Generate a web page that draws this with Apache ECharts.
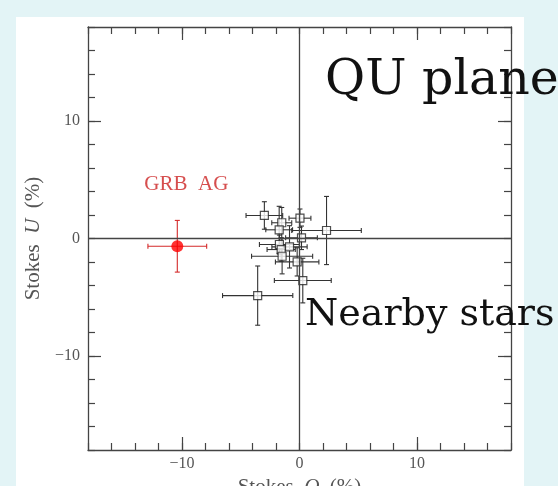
<!DOCTYPE html>
<html>
<head>
<meta charset="utf-8">
<script src="https://cdn.jsdelivr.net/npm/echarts@6/dist/echarts.min.js"></script>
<style>
  html, body { margin: 0; padding: 0; background: #e3f4f6; }
  #panel { position: absolute; left: 16px; top: 17px; width: 508px; height: 469px; background: #ffffff; }
  #chart { position: absolute; left: 0; top: 0; width: 558px; height: 486px; }
</style>
</head>
<body>
<div id="panel"></div>
<div id="chart"></div>
<script>
// Stokes Q / U polarisation (percent) of the GRB afterglow and of nearby field stars.
const grbQ = [-10.4];
const grbU = [-0.66];
const grbErrQ = [2.5];
const grbErrU = [2.2];

const starQ    = [-2.99, 0.04, 2.30, -1.51, -1.73, 0.17, -1.71, -0.85, -1.56, -1.48, -0.20, 0.28, -3.56];
const starU    = [ 1.96, 1.73, 0.68,  1.34,  0.74, 0.06, -0.51, -0.71, -0.94, -1.51, -1.99, -3.58, -4.86];
const starErrQ = [ 1.56, 0.93, 2.96,  0.85,  1.14, 1.35,  1.70,  1.50,  1.20,  2.60,  1.85,  2.42,  2.99];
const starErrU = [ 1.17, 0.78, 2.90,  1.30,  2.00, 1.00,  0.80,  1.80,  1.00,  1.50,  1.20,  1.90,  2.52];

const tickLabels = [-10, 0, 10];
const majorTicks = [-10, 10];
const axisMin = -18;
const axisMax = 18;
const minorStep = 2;

const serif = '"Liberation Serif", "DejaVu Serif", serif';
const bigSerif = '"DejaVu Serif", "Liberation Serif", serif';
const axisColor = '#444';

const starRows = starQ.map((q, i) => [q, starU[i], starErrQ[i], starErrU[i]]);
const grbRows = grbQ.map((q, i) => [q, grbU[i], grbErrQ[i], grbErrU[i]]);

function fmtTick(v) {
  if (tickLabels.indexOf(v) < 0) return '';
  return v < 0 ? '\u2212' + Math.abs(v) : String(v);
}

// Cross-shaped error bars with short end caps
function errorBars(color) {
  return function (params, api) {
    const q = api.value(0), u = api.value(1), dq = api.value(2), du = api.value(3);
    const l = api.coord([q - dq, u]);
    const r = api.coord([q + dq, u]);
    const t = api.coord([q, u + du]);
    const b = api.coord([q, u - du]);
    const cap = 2.5;
    const style = { stroke: color, lineWidth: 1.1 };
    const seg = (x1, y1, x2, y2) => ({ type: 'line', shape: { x1, y1, x2, y2 }, style });
    return {
      type: 'group',
      children: [
        seg(l[0], l[1], r[0], r[1]),
        seg(t[0], t[1], b[0], b[1]),
        seg(l[0], l[1] - cap, l[0], l[1] + cap),
        seg(r[0], r[1] - cap, r[0], r[1] + cap),
        seg(t[0] - cap, t[1], t[0] + cap, t[1]),
        seg(b[0] - cap, b[1], b[0] + cap, b[1])
      ]
    };
  };
}

const tickStyle = { color: axisColor, width: 1.2 };

function minorAxis(position, extra) {
  return Object.assign({
    type: 'value', position, min: axisMin, max: axisMax, interval: minorStep,
    axisLine: { show: true, onZero: false, lineStyle: { color: axisColor, width: 1.3 } },
    axisTick: { show: true, inside: true, length: 7, lineStyle: tickStyle },
    axisLabel: { show: false },
    splitLine: { show: false }
  }, extra || {});
}

function majorAxis(position) {
  return {
    type: 'value', position, min: axisMin, max: axisMax,
    axisLine: { show: false, onZero: false },
    axisTick: { show: true, inside: true, length: 13, customValues: majorTicks, lineStyle: tickStyle },
    axisLabel: { show: false },
    splitLine: { show: false }
  };
}

const nameStyle = {
  fontFamily: serif, fontSize: 21, color: '#555',
  rich: { i: { fontFamily: serif, fontSize: 21, fontStyle: 'italic', color: '#555' } }
};

const chart = echarts.init(document.getElementById('chart'));
chart.setOption({
  backgroundColor: 'transparent',
  animation: false,
  grid: { left: 88, top: 27, width: 423, height: 423, containLabel: false, outerBoundsMode: 'none' },
  xAxis: [
    minorAxis('bottom', {
      axisLabel: { show: true, formatter: fmtTick, margin: 6, fontFamily: serif, fontSize: 16, color: '#555', showMinLabel: true, showMaxLabel: true },
      name: 'Stokes  {i|Q}  (%)', nameLocation: 'middle', nameGap: 25, nameTextStyle: nameStyle
    }),
    majorAxis('bottom'),
    minorAxis('top'),
    majorAxis('top')
  ],
  yAxis: [
    minorAxis('left', {
      axisLabel: { show: true, formatter: fmtTick, margin: 8, fontFamily: serif, fontSize: 16, color: '#555', showMinLabel: true, showMaxLabel: true },
      name: 'Stokes  {i|U}  (%)', nameLocation: 'middle', nameGap: 44, nameTextStyle: nameStyle
    }),
    majorAxis('left'),
    minorAxis('right'),
    majorAxis('right')
  ],
  series: [
    {
      type: 'custom', name: 'star errors', xAxisIndex: 0, yAxisIndex: 0,
      renderItem: errorBars('#333'), data: starRows, encode: { x: 0, y: 1 }, z: 3, silent: true,
      markLine: {
        silent: true, symbol: 'none', label: { show: false },
        lineStyle: { color: '#444', width: 1.3, type: 'solid' },
        data: [{ xAxis: 0 }, { yAxis: 0 }]
      }
    },
    {
      type: 'scatter', name: 'Nearby stars', xAxisIndex: 0, yAxisIndex: 0,
      data: starRows.map(r => [r[0], r[1]]), symbol: 'rect', symbolSize: 8,
      itemStyle: { color: '#ffffff', borderColor: '#222', borderWidth: 1.2 }, z: 4
    },
    {
      type: 'custom', name: 'GRB errors', xAxisIndex: 0, yAxisIndex: 0,
      renderItem: errorBars('#d42a2a'), data: grbRows, encode: { x: 0, y: 1 }, z: 3, silent: true
    },
    {
      type: 'scatter', name: 'GRB AG', xAxisIndex: 0, yAxisIndex: 0,
      data: grbRows.map(r => [r[0], r[1]]), symbol: 'circle', symbolSize: 12,
      itemStyle: { color: '#ff0000' }, z: 5,
      label: {
        show: true, position: 'inside', offset: [9, -62], formatter: 'GRB  AG',
        fontFamily: serif, fontSize: 21, color: '#cc2222'
      }
    }
  ],
  graphic: [
    {
      type: 'text', left: 325, top: 57, z: 10,
      style: { text: 'QU plane', font: '49px ' + bigSerif, fill: '#111' }
    },
    {
      type: 'text', left: 305, top: 296, z: 10,
      style: { text: 'Nearby stars', font: '38px ' + bigSerif, fill: '#111' }
    }
  ]
});
</script>
</body>
</html>
